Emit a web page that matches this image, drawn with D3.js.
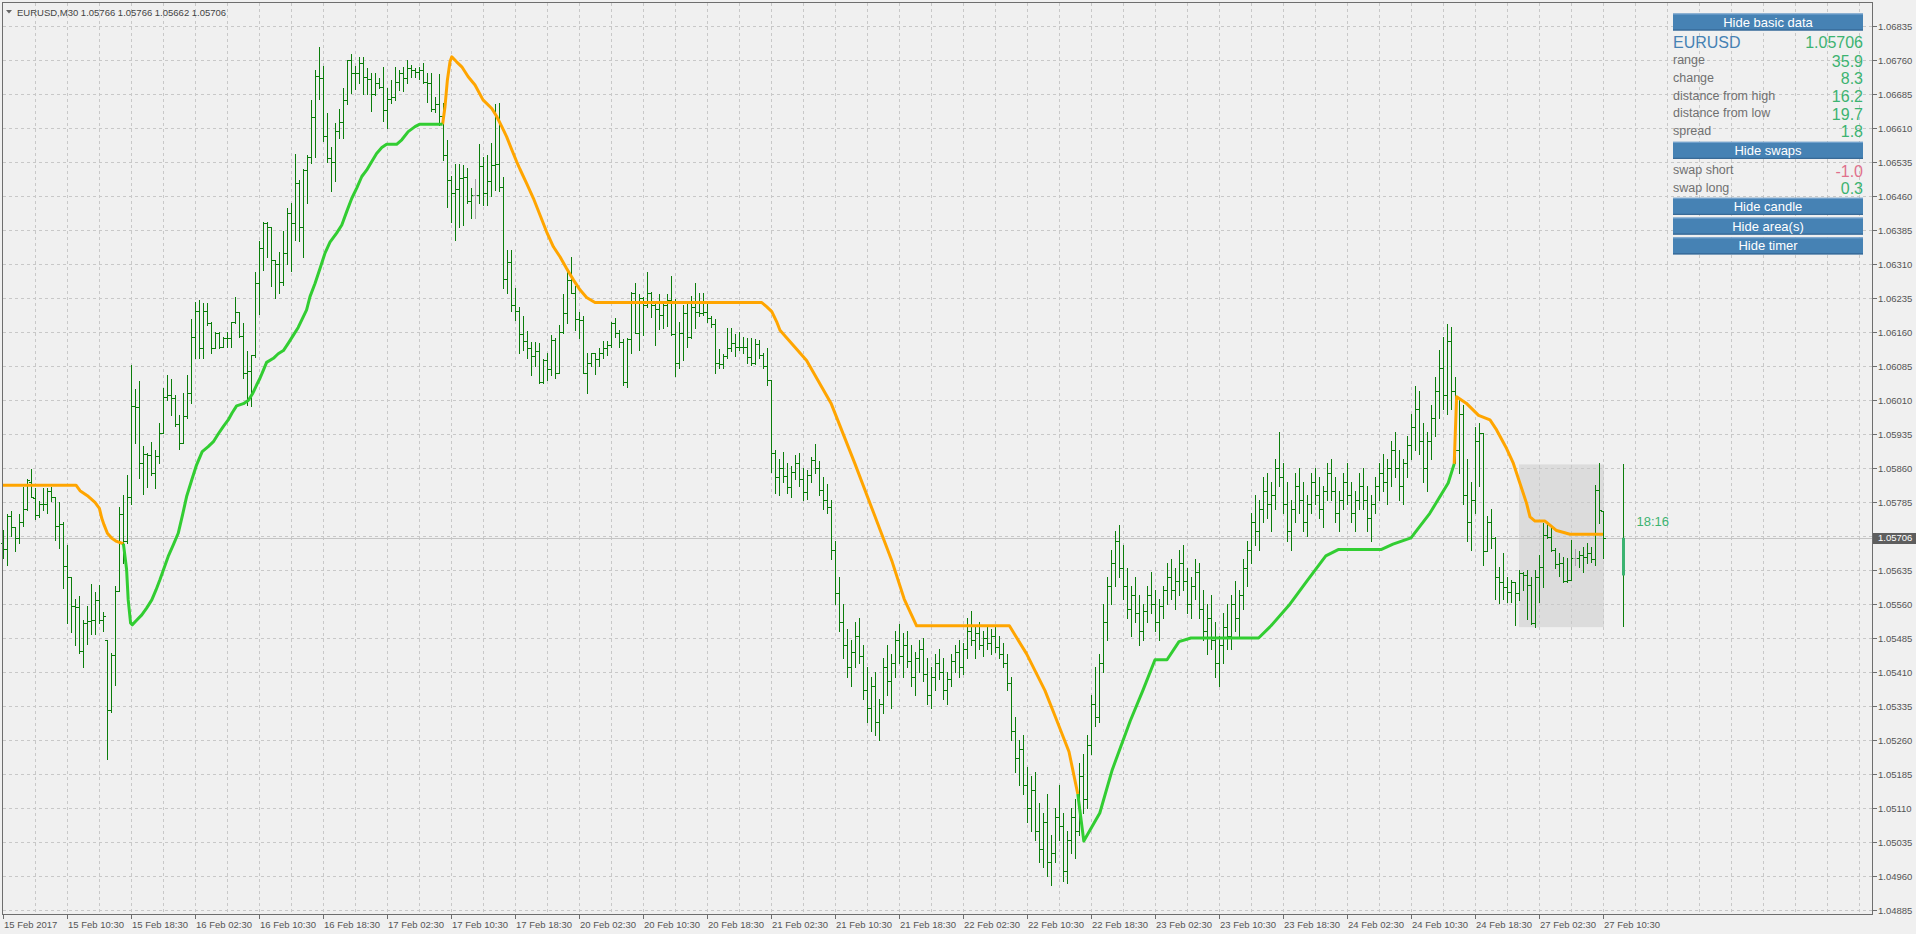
<!DOCTYPE html>
<html><head><meta charset="utf-8">
<script src="https://cdn.jsdelivr.net/npm/d3@7"></script>
<style>body{margin:0;background:#f0f0f0;overflow:hidden}svg{display:block}text{font-family:"Liberation Sans",Arial,sans-serif}</style>
</head><body><svg id="c" width="1916" height="934"></svg>
<script>
const symbolTitle = "EURUSD,M30";
const lastBarOHLC = ["1.05766","1.05766","1.05662","1.05706"];
const currentPrice = 1.05706;
const priceTicks = [1.06835,1.06760,1.06685,1.06610,1.06535,1.06460,1.06385,1.06310,1.06235,1.06160,1.06085,1.06010,1.05935,1.05860,1.05785,1.05710,1.05635,1.05560,1.05485,1.05410,1.05335,1.05260,1.05185,1.05110,1.05035,1.04960,1.04885];
const timeLabels = ["15 Feb 2017","15 Feb 10:30","15 Feb 18:30","16 Feb 02:30","16 Feb 10:30","16 Feb 18:30","17 Feb 02:30","17 Feb 10:30","17 Feb 18:30","20 Feb 02:30","20 Feb 10:30","20 Feb 18:30","21 Feb 02:30","21 Feb 10:30","21 Feb 18:30","22 Feb 02:30","22 Feb 10:30","22 Feb 18:30","23 Feb 02:30","23 Feb 10:30","23 Feb 18:30","24 Feb 02:30","24 Feb 10:30","24 Feb 18:30","27 Feb 02:30","27 Feb 10:30"];
const timeLabelBars = [0,16,32,48,64,80,96,112,128,144,160,176,192,208,224,240,256,272,288,304,320,336,352,368,384,400];

const opens = [
1.05694,1.05681,1.05755,1.05729,1.05705,1.05741,1.05769,1.05829,1.05794,1.05757,
1.05780,1.05781,1.05810,1.05796,1.05733,1.05736,1.05644,1.05619,1.05555,1.05553,
1.05457,1.05518,1.05522,1.05524,1.05568,1.05524,1.05481,1.05327,1.05448,1.05588,
1.05758,1.05700,1.05796,1.05996,1.05994,1.05871,1.05891,1.05889,1.05849,1.05887,
1.05937,1.06016,1.06021,1.06014,1.05958,1.05915,1.05975,1.06025,1.06149,1.06207,
1.06124,1.06207,1.06179,1.06124,1.06157,1.06128,1.06146,1.06147,1.06182,1.06204,
1.06152,1.06069,1.06073,1.06110,1.06267,1.06345,1.06400,1.06392,1.06319,1.06309,
1.06270,1.06334,1.06422,1.06401,1.06488,1.06392,1.06517,1.06547,1.06634,1.06725,
1.06720,1.06592,1.06543,1.06534,1.06604,1.06623,1.06672,1.06759,1.06732,1.06731,
1.06754,1.06723,1.06717,1.06685,1.06710,1.06700,1.06650,1.06675,1.06679,1.06712,
1.06731,1.06721,1.06742,1.06738,1.06734,1.06739,1.06712,1.06710,1.06651,1.06663,
1.06637,1.06550,1.06495,1.06467,1.06475,1.06499,1.06503,1.06448,1.06462,1.06462,
1.06527,1.06466,1.06494,1.06528,1.06530,1.06479,1.06278,1.06314,1.06220,1.06207,
1.06155,1.06141,1.06124,1.06107,1.06117,1.06050,1.06098,1.06078,1.06142,1.06069,
1.06161,1.06201,1.06275,1.06247,1.06188,1.06187,1.06070,1.06091,1.06113,1.06100,
1.06114,1.06124,1.06131,1.06179,1.06157,1.06137,1.06050,1.06144,1.06247,1.06157,
1.06236,1.06220,1.06247,1.06220,1.06210,1.06198,1.06220,1.06231,1.06156,1.06091,
1.06157,1.06201,1.06148,1.06216,1.06205,1.06201,1.06205,1.06190,1.06178,1.06091,
1.06089,1.06106,1.06124,1.06135,1.06126,1.06128,1.06126,1.06104,1.06092,1.06134,
1.06109,1.06084,1.06054,1.05894,
1.05841,1.05860,1.05842,1.05818,1.05852,1.05870,1.05835,1.05808,1.05845,1.05878,
1.05860,1.05812,1.05790,1.05775,1.05680,1.05585,1.05520,1.05470,1.05420,1.05455,
1.05490,1.05445,1.05370,1.05330,1.05380,1.05300,1.05340,1.05420,1.05390,1.05430,
1.05480,1.05445,1.05470,1.05435,1.05400,1.05440,1.05460,1.05405,1.05360,1.05400,
1.05430,1.05410,1.05370,1.05395,1.05435,1.05455,1.05420,1.05460,1.05500,1.05480,
1.05495,1.05470,1.05485,1.05475,1.05490,1.05465,1.05450,1.05430,1.05385,1.05280,
1.05220,1.05240,1.05160,1.05110,1.05150,1.05060,1.05020,1.05080,1.04990,1.05010,
1.05090,1.05070,1.04970,1.05040,1.05090,1.05060,1.05180,1.05130,1.05250,1.05340,
1.05310,1.05430,1.05520,1.05600,1.05650,1.05700,1.05640,1.05600,1.05550,1.05580,
1.05540,1.05500,1.05545,1.05580,1.05560,1.05520,1.05555,1.05590,1.05620,1.05590,
1.05610,1.05650,1.05610,1.05560,1.05600,1.05630,1.05550,1.05500,1.05530,1.05480,
1.05430,1.05470,1.05510,1.05490,1.05560,1.05530,1.05580,1.05640,1.05680,1.05740,
1.05720,1.05770,1.05810,1.05780,1.05800,1.05860,1.05840,1.05780,1.05720,1.05770,
1.05820,1.05790,1.05740,1.05780,1.05830,1.05800,1.05770,1.05810,1.05850,1.05810,
1.05760,1.05790,1.05830,1.05800,1.05760,1.05790,1.05820,1.05790,1.05750,1.05780,
1.05820,1.05850,1.05830,1.05860,1.05900,1.05860,1.05820,1.05870,1.05910,1.05950,
1.05990,1.05920,1.05860,1.05920,1.05970,1.06030,1.06080,1.06020,1.06140,1.06030,
1.05900,1.05980,1.05800,1.05740,1.05790,1.05920,1.05937,1.05676,1.05741,1.05705,
1.05620,1.05609,1.05598,1.05586,1.05609,1.05585,1.05628,1.05624,1.05602,1.05517,
1.05620,1.05642,1.05712,1.05708,1.05679,1.05648,1.05650,1.05611,1.05614,1.05662,
1.05662,1.05668,1.05664,1.05673,1.05659,1.05811,1.05766];
const highs = [
1.05724,1.05759,1.05766,1.05730,1.05759,1.05819,1.05835,1.05858,1.05816,1.05788,
1.05816,1.05816,1.05818,1.05797,1.05786,1.05740,1.05691,1.05619,1.05571,1.05577,
1.05525,1.05556,1.05605,1.05586,1.05603,1.05542,1.05481,1.05452,1.05600,1.05775,
1.05801,1.05845,1.06088,1.06034,1.06051,1.05909,1.05893,1.05917,1.05900,1.05959,
1.06036,1.06066,1.06056,1.06021,1.05977,1.06025,1.06066,1.06188,1.06227,1.06231,
1.06225,1.06225,1.06181,1.06161,1.06159,1.06150,1.06161,1.06183,1.06238,1.06205,
1.06179,1.06117,1.06110,1.06292,1.06360,1.06403,1.06402,1.06392,1.06319,1.06337,
1.06383,1.06434,1.06444,1.06553,1.06495,1.06519,1.06550,1.06672,1.06739,1.06789,
1.06747,1.06644,1.06567,1.06622,1.06652,1.06699,1.06761,1.06773,1.06747,1.06767,
1.06766,1.06742,1.06732,1.06732,1.06720,1.06744,1.06698,1.06716,1.06744,1.06739,
1.06745,1.06761,1.06749,1.06742,1.06744,1.06753,1.06732,1.06732,1.06679,1.06729,
1.06666,1.06584,1.06504,1.06531,1.06531,1.06528,1.06521,1.06477,1.06498,1.06575,
1.06547,1.06550,1.06576,1.06664,1.06666,1.06503,1.06341,1.06341,1.06256,1.06216,
1.06195,1.06163,1.06137,1.06137,1.06135,1.06100,1.06113,1.06153,1.06146,1.06176,
1.06244,1.06297,1.06326,1.06262,1.06205,1.06195,1.06113,1.06114,1.06114,1.06124,
1.06141,1.06141,1.06181,1.06190,1.06164,1.06144,1.06146,1.06249,1.06269,1.06244,
1.06238,1.06293,1.06249,1.06222,1.06244,1.06227,1.06244,1.06284,1.06232,1.06181,
1.06220,1.06225,1.06239,1.06269,1.06245,1.06245,1.06227,1.06195,1.06188,1.06122,
1.06112,1.06168,1.06168,1.06156,1.06161,1.06148,1.06146,1.06146,1.06144,1.06142,
1.06114,1.06124,1.06054,1.05900,
1.05880,1.05895,1.05870,1.05865,1.05888,1.05892,1.05860,1.05855,1.05885,1.05912,
1.05875,1.05840,1.05825,1.05790,1.05700,1.05620,1.05560,1.05505,1.05480,1.05520,
1.05530,1.05470,1.05420,1.05400,1.05410,1.05350,1.05440,1.05470,1.05450,1.05500,
1.05515,1.05495,1.05500,1.05470,1.05455,1.05480,1.05485,1.05440,1.05420,1.05450,
1.05460,1.05440,1.05410,1.05450,1.05470,1.05480,1.05475,1.05530,1.05545,1.05510,
1.05520,1.05500,1.05510,1.05505,1.05510,1.05490,1.05475,1.05450,1.05400,1.05310,
1.05260,1.05270,1.05200,1.05180,1.05190,1.05120,1.05100,1.05140,1.05050,1.05110,
1.05160,1.05100,1.05060,1.05110,1.05130,1.05210,1.05230,1.05270,1.05360,1.05420,
1.05450,1.05560,1.05620,1.05680,1.05720,1.05735,1.05690,1.05640,1.05600,1.05620,
1.05580,1.05560,1.05600,1.05630,1.05590,1.05570,1.05600,1.05650,1.05660,1.05640,
1.05680,1.05690,1.05640,1.05620,1.05660,1.05650,1.05590,1.05560,1.05580,1.05520,
1.05490,1.05540,1.05560,1.05580,1.05610,1.05590,1.05660,1.05700,1.05760,1.05800,
1.05790,1.05840,1.05850,1.05830,1.05880,1.05940,1.05870,1.05830,1.05790,1.05850,
1.05860,1.05830,1.05800,1.05850,1.05860,1.05840,1.05820,1.05870,1.05880,1.05840,
1.05810,1.05850,1.05870,1.05830,1.05810,1.05850,1.05860,1.05820,1.05800,1.05840,
1.05870,1.05890,1.05880,1.05920,1.05940,1.05900,1.05880,1.05930,1.05980,1.06040,
1.06030,1.05960,1.05940,1.06000,1.06060,1.06120,1.06150,1.06178,1.06170,1.06060,
1.06010,1.06000,1.05880,1.05830,1.05950,1.05960,1.05937,1.05754,1.05769,1.05708,
1.05642,1.05672,1.05620,1.05614,1.05609,1.05635,1.05631,1.05636,1.05620,1.05634,
1.05668,1.05738,1.05738,1.05732,1.05683,1.05672,1.05664,1.05661,1.05701,1.05681,
1.05676,1.05685,1.05694,1.05685,1.05823,1.05872,1.05766];
const lows = [
1.05661,1.05645,1.05709,1.05678,1.05694,1.05731,1.05768,1.05797,1.05748,1.05753,
1.05768,1.05760,1.05788,1.05702,1.05683,1.05595,1.05518,1.05498,1.05469,1.05452,
1.05421,1.05472,1.05494,1.05494,1.05519,1.05500,1.05217,1.05322,1.05382,1.05588,
1.05650,1.05694,1.05781,1.05916,1.05838,1.05803,1.05819,1.05845,1.05816,1.05871,
1.05937,1.06010,1.05977,1.05952,1.05902,1.05915,1.05970,1.06003,1.06102,1.06102,
1.06102,1.06176,1.06113,1.06124,1.06124,1.06128,1.06128,1.06128,1.06180,1.06150,
1.06058,1.05999,1.05996,1.06105,1.06200,1.06297,1.06326,1.06261,1.06236,1.06247,
1.06264,1.06311,1.06295,1.06364,1.06361,1.06326,1.06445,1.06532,1.06545,1.06673,
1.06582,1.06536,1.06470,1.06492,1.06587,1.06587,1.06664,1.06688,1.06695,1.06710,
1.06686,1.06686,1.06648,1.06683,1.06698,1.06626,1.06609,1.06666,1.06672,1.06694,
1.06692,1.06709,1.06723,1.06723,1.06717,1.06710,1.06668,1.06648,1.06646,1.06617,
1.06539,1.06435,1.06403,1.06364,1.06392,1.06396,1.06444,1.06411,1.06412,1.06444,
1.06440,1.06440,1.06459,1.06473,1.06472,1.06256,1.06245,1.06207,1.06186,1.06113,
1.06120,1.06102,1.06065,1.06085,1.06048,1.06047,1.06054,1.06065,1.06058,1.06069,
1.06157,1.06179,1.06245,1.06164,1.06146,1.06069,1.06026,1.06084,1.06067,1.06084,
1.06102,1.06109,1.06128,1.06150,1.06126,1.06043,1.06038,1.06114,1.06157,1.06120,
1.06153,1.06216,1.06192,1.06131,1.06166,1.06168,1.06173,1.06153,1.06063,1.06080,
1.06098,1.06126,1.06146,1.06168,1.06195,1.06198,1.06181,1.06172,1.06069,1.06080,
1.06080,1.06102,1.06117,1.06107,1.06120,1.06113,1.06091,1.06087,1.06089,1.06102,
1.06080,1.06043,1.05852,1.05804,
1.05800,1.05830,1.05805,1.05795,1.05835,1.05820,1.05790,1.05792,1.05830,1.05850,
1.05800,1.05770,1.05760,1.05660,1.05560,1.05500,1.05440,1.05400,1.05380,1.05420,
1.05430,1.05350,1.05300,1.05280,1.05270,1.05260,1.05320,1.05360,1.05330,1.05400,
1.05430,1.05400,1.05420,1.05380,1.05360,1.05410,1.05390,1.05340,1.05330,1.05370,
1.05395,1.05350,1.05340,1.05380,1.05410,1.05400,1.05405,1.05440,1.05470,1.05440,
1.05460,1.05445,1.05460,1.05450,1.05455,1.05440,1.05420,1.05370,1.05260,1.05190,
1.05160,1.05140,1.05080,1.05060,1.05040,1.04990,1.04980,1.04960,1.04940,1.04990,
1.05040,1.04950,1.04945,1.05010,1.05000,1.05050,1.05100,1.05110,1.05230,1.05290,
1.05300,1.05410,1.05480,1.05560,1.05600,1.05620,1.05570,1.05530,1.05490,1.05520,
1.05470,1.05480,1.05520,1.05540,1.05500,1.05480,1.05530,1.05560,1.05570,1.05550,
1.05580,1.05590,1.05540,1.05530,1.05570,1.05530,1.05480,1.05450,1.05460,1.05400,
1.05380,1.05430,1.05460,1.05460,1.05500,1.05490,1.05550,1.05600,1.05650,1.05690,
1.05680,1.05740,1.05750,1.05720,1.05770,1.05820,1.05760,1.05700,1.05680,1.05740,
1.05760,1.05720,1.05710,1.05760,1.05780,1.05750,1.05730,1.05790,1.05790,1.05740,
1.05720,1.05770,1.05780,1.05740,1.05720,1.05770,1.05770,1.05720,1.05700,1.05760,
1.05790,1.05810,1.05780,1.05820,1.05840,1.05790,1.05780,1.05840,1.05880,1.05900,
1.05890,1.05830,1.05810,1.05880,1.05930,1.05970,1.05990,1.05980,1.05990,1.05870,
1.05850,1.05780,1.05700,1.05680,1.05760,1.05820,1.05646,1.05676,1.05683,1.05572,
1.05563,1.05572,1.05565,1.05565,1.05514,1.05569,1.05591,1.05528,1.05516,1.05510,
1.05565,1.05598,1.05705,1.05676,1.05639,1.05622,1.05609,1.05609,1.05613,1.05646,
1.05642,1.05631,1.05650,1.05653,1.05646,1.05738,1.05662];
const closes = [
1.05681,1.05755,1.05729,1.05705,1.05741,1.05769,1.05833,1.05797,1.05757,1.05780,
1.05781,1.05810,1.05796,1.05733,1.05736,1.05644,1.05619,1.05555,1.05553,1.05457,
1.05518,1.05522,1.05524,1.05568,1.05524,1.05534,1.05327,1.05448,1.05588,1.05758,
1.05700,1.05796,1.05996,1.05994,1.05871,1.05891,1.05889,1.05849,1.05887,1.05937,
1.06016,1.06021,1.06014,1.05958,1.05915,1.05975,1.06025,1.06149,1.06207,1.06124,
1.06207,1.06179,1.06124,1.06157,1.06128,1.06146,1.06147,1.06182,1.06204,1.06152,
1.06069,1.06073,1.06110,1.06267,1.06345,1.06400,1.06392,1.06319,1.06309,1.06270,
1.06334,1.06422,1.06401,1.06488,1.06392,1.06517,1.06547,1.06634,1.06725,1.06720,
1.06592,1.06543,1.06534,1.06604,1.06623,1.06672,1.06759,1.06732,1.06731,1.06754,
1.06723,1.06717,1.06685,1.06710,1.06700,1.06650,1.06675,1.06679,1.06712,1.06731,
1.06721,1.06742,1.06738,1.06734,1.06739,1.06712,1.06710,1.06651,1.06663,1.06637,
1.06550,1.06495,1.06467,1.06475,1.06499,1.06503,1.06448,1.06462,1.06462,1.06527,
1.06466,1.06494,1.06528,1.06530,1.06479,1.06278,1.06314,1.06220,1.06207,1.06155,
1.06141,1.06124,1.06107,1.06117,1.06050,1.06098,1.06078,1.06142,1.06069,1.06161,
1.06201,1.06275,1.06247,1.06188,1.06187,1.06070,1.06091,1.06113,1.06100,1.06114,
1.06124,1.06131,1.06179,1.06157,1.06137,1.06050,1.06144,1.06247,1.06157,1.06236,
1.06220,1.06247,1.06220,1.06210,1.06198,1.06220,1.06231,1.06156,1.06091,1.06157,
1.06201,1.06148,1.06216,1.06205,1.06201,1.06205,1.06190,1.06178,1.06091,1.06089,
1.06106,1.06124,1.06135,1.06126,1.06128,1.06126,1.06104,1.06092,1.06134,1.06109,
1.06084,1.06054,1.05894,1.05841,
1.05860,1.05842,1.05818,1.05852,1.05870,1.05835,1.05808,1.05845,1.05878,1.05860,
1.05812,1.05790,1.05775,1.05680,1.05585,1.05520,1.05470,1.05420,1.05455,1.05490,
1.05445,1.05370,1.05330,1.05380,1.05300,1.05340,1.05420,1.05390,1.05430,1.05480,
1.05445,1.05470,1.05435,1.05400,1.05440,1.05460,1.05405,1.05360,1.05400,1.05430,
1.05410,1.05370,1.05395,1.05435,1.05455,1.05420,1.05460,1.05500,1.05480,1.05495,
1.05470,1.05485,1.05475,1.05490,1.05465,1.05450,1.05430,1.05385,1.05280,1.05220,
1.05240,1.05160,1.05110,1.05150,1.05060,1.05020,1.05080,1.04990,1.05010,1.05090,
1.05070,1.04970,1.05040,1.05090,1.05060,1.05180,1.05130,1.05250,1.05340,1.05310,
1.05430,1.05520,1.05600,1.05650,1.05700,1.05640,1.05600,1.05550,1.05580,1.05540,
1.05500,1.05545,1.05580,1.05560,1.05520,1.05555,1.05590,1.05620,1.05590,1.05610,
1.05650,1.05610,1.05560,1.05600,1.05630,1.05550,1.05500,1.05530,1.05480,1.05430,
1.05470,1.05510,1.05490,1.05560,1.05530,1.05580,1.05640,1.05680,1.05740,1.05720,
1.05770,1.05810,1.05780,1.05800,1.05860,1.05840,1.05780,1.05720,1.05770,1.05820,
1.05790,1.05740,1.05780,1.05830,1.05800,1.05770,1.05810,1.05850,1.05810,1.05760,
1.05790,1.05830,1.05800,1.05760,1.05790,1.05820,1.05790,1.05750,1.05780,1.05820,
1.05850,1.05830,1.05860,1.05900,1.05860,1.05820,1.05870,1.05910,1.05950,1.05990,
1.05920,1.05860,1.05920,1.05970,1.06030,1.06080,1.06020,1.06140,1.06030,1.05900,
1.05980,1.05800,1.05740,1.05790,1.05920,1.05937,1.05676,1.05741,1.05705,1.05620,
1.05609,1.05598,1.05586,1.05609,1.05585,1.05628,1.05624,1.05602,1.05517,1.05620,
1.05642,1.05712,1.05708,1.05679,1.05648,1.05650,1.05611,1.05614,1.05662,1.05662,
1.05668,1.05664,1.05673,1.05659,1.05811,1.05767,1.05706];

// upper (orange) and lower (green) trailing lines: segments of [bar, price]
const upperLine = [
 [[0,1.05822],[18.25,1.05822],[19.25,1.05810],[21.1,1.05799],[23,1.05784],[24.1,1.05771],[24.7,1.05749],[25.25,1.05735],[26.1,1.05716],[27.2,1.05705],[28.4,1.05698],[30.1,1.05693]],
 [[109.9,1.06618],[110.5,1.06657],[111.1,1.06716],[111.75,1.06756],[112.2,1.06767],[113.4,1.06756],[114.7,1.06745],[116.3,1.06723],[118,1.06705],[120,1.06672],[122.2,1.06653],[123.4,1.06636],[124.7,1.06613],[125.9,1.06591],[127.2,1.06562],[128.4,1.06536],[129.25,1.06519],[130.9,1.06488],[132.6,1.06455],[134.25,1.06418],[135.9,1.06381],[137.6,1.06348],[139.25,1.06326],[140.9,1.06300],[142.6,1.06275],[144.25,1.06253],[145.9,1.06236],[148,1.06225],[189.7,1.06225],[190.9,1.06216],[192.2,1.06205],[193.4,1.06183],[194.25,1.06164],[200.9,1.06097],[207,1.06003],[213,1.05869],[217.7,1.05760],[222.3,1.05653],[225.3,1.05571],[228.4,1.05512],[251.6,1.05512],[255.9,1.05450],[260.5,1.05369],[263.5,1.05302],[266.5,1.05234],[268.7,1.05141]],
 [[362.8,1.05869],[363.4,1.06017],[365.8,1.06003],[368.9,1.05976],[371.75,1.05966],[373.4,1.05944],[375.9,1.05903],[377.6,1.05870],[379.25,1.05826],[380.9,1.05782],[381.75,1.05752],[383,1.05743],[385.5,1.05743],[386.75,1.05734],[388.4,1.05722],[391.75,1.05714],[400,1.05714]]
];
const lowerLine = [
 [[30.1,1.05693],[30.5,1.05665],[30.9,1.05636],[31.3,1.05569],[31.9,1.05518],[32.3,1.05514],[33.4,1.05524],[34.7,1.05536],[35.9,1.05551],[37.2,1.05569],[38.25,1.05591],[39.25,1.05614],[40.25,1.05639],[41.3,1.05665],[42.6,1.05691],[43.8,1.05716],[44.9,1.05757],[45.9,1.05797],[47.2,1.05834],[48.4,1.05867],[49.8,1.05896],[51.3,1.05907],[52.6,1.05918],[53.8,1.05935],[55.1,1.05952],[56.3,1.05966],[57.3,1.05982],[58.4,1.05997],[60.1,1.06002],[61.3,1.06009],[62.4,1.06024],[63.4,1.06043],[64.25,1.06058],[65.1,1.06076],[65.9,1.06093],[67.6,1.06102],[68.8,1.06112],[70.1,1.06119],[71.3,1.06135],[72.6,1.06153],[73.8,1.06170],[74.7,1.06187],[75.9,1.06209],[76.75,1.06238],[78,1.06267],[79.25,1.06300],[80.5,1.06334],[81.75,1.06358],[83.4,1.06378],[84.7,1.06396],[85.9,1.06425],[87.2,1.06455],[88.4,1.06477],[89.7,1.06503],[90.9,1.06517],[92.2,1.06536],[93.4,1.06554],[94.7,1.06567],[95.9,1.06574],[98.4,1.06574],[99.7,1.06584],[101.3,1.06602],[103,1.06613],[104.1,1.06618],[109.9,1.06618]],
 [[268.7,1.05141],[270.2,1.05037],[274.2,1.05099],[277.3,1.05194],[281.8,1.05302],[285,1.05370],[288,1.05437],[291,1.05437],[294,1.05477],[297,1.05485],[313.9,1.05485],[317,1.05512],[321.5,1.05557],[326.1,1.05612],[330.7,1.05666],[333.8,1.05680],[344.5,1.05680],[347.5,1.05692],[352,1.05706],[356.7,1.05760],[361.3,1.05827],[362.8,1.05869]]
];

// today's candle (D1) drawn to the right, and today's range area
const dayCandleBar = [405];
const dayCandleOHLC = [1.05623, 1.05868, 1.05509, 1.05706];
const todayAreaBars = [379, 400];
const timerText = "18:16";

const panelSymbol = ["EURUSD", "1.05706"];
const panelRows = [["range","35.9"],["change","8.3"],["distance from high","16.2"],["distance from low","19.7"],["spread","1.8"]];
const swapRows = [["swap short","-1.0"],["swap long","0.3"]];
const buttons = ["Hide basic data","Hide swaps","Hide candle","Hide area(s)","Hide timer"];

// ---------- drawing ----------
const svg = d3.select('#c');
const FR = {l:2.5, t:2.5, r:1872.5, b:914.5};
const x = d3.scaleLinear().domain([0,400]).range([3,1603]);
const y = d3.scaleLinear().domain([1.04885,1.06835]).range([910,26]);
const px = i => Math.round(x(i)) + 0.5;
const py = v => Math.round(y(v)) + 0.5;

svg.append('rect').attr('width',1916).attr('height',934).attr('fill','#f0f0f0');

// today's area
svg.append('rect')
  .attr('x', x(todayAreaBars[0])).attr('y', y(dayCandleOHLC[1]))
  .attr('width', x(todayAreaBars[1]) - x(todayAreaBars[0]) + 1)
  .attr('height', y(dayCandleOHLC[2]) - y(dayCandleOHLC[1]))
  .attr('fill','#dcdcdc');

// grid
const grid = svg.append('g').attr('stroke','#c8c8c8').attr('stroke-dasharray','3,3').attr('shape-rendering','crispEdges');
priceTicks.forEach(p => grid.append('line').attr('x1',3).attr('x2',FR.r).attr('y1',py(p)).attr('y2',py(p)));
d3.range(8, 465, 8).forEach(b => grid.append('line').attr('x1',px(b)).attr('x2',px(b)).attr('y1',FR.t).attr('y2',FR.b));

// current price line
svg.append('line').attr('x1',3).attr('x2',FR.r).attr('y1',py(currentPrice)).attr('y2',py(currentPrice))
  .attr('stroke','#c4c4c4').attr('shape-rendering','crispEdges');

// OHLC bars
const bars = svg.append('g').attr('fill','none').attr('shape-rendering','crispEdges');
opens.forEach((o,i) => {
  const cx = px(i);
  const d = `M${cx},${py(highs[i])-0.5}V${py(lows[i])+0.5}M${cx-2.5},${py(o)}H${cx}M${cx},${py(closes[i])}H${cx+2.5}`;
  bars.append('path').attr('d', d).attr('stroke', o === closes[i] ? '#a8a8a8' : '#0b7d0b').attr('stroke-width',1);
});

// trailing lines
const line = d3.line().x(d => x(d[0])).y(d => y(d[1]));
upperLine.forEach(seg => svg.append('path').attr('d', line(seg)).attr('fill','none').attr('stroke','#ffa500').attr('stroke-width',3).attr('stroke-linejoin','round'));
lowerLine.forEach(seg => svg.append('path').attr('d', line(seg)).attr('fill','none').attr('stroke','#32cd32').attr('stroke-width',3).attr('stroke-linejoin','round'));

// day candle
{
  const cx = px(dayCandleBar[0]);
  const [o,h,l,c] = dayCandleOHLC;
  svg.append('line').attr('x1',cx).attr('x2',cx).attr('y1',y(h)).attr('y2',y(l)).attr('stroke','#0b7d0b').attr('shape-rendering','crispEdges');
  svg.append('rect').attr('x',cx-1.5).attr('width',3).attr('y',y(c)).attr('height',y(o)-y(c)).attr('fill','#3cb371');
  svg.append('text').attr('x',cx+13).attr('y',y(c)-12).attr('font-size',13).attr('fill','#3cb371').text(timerText);
}

// frame
svg.append('path').attr('d',`M${FR.l},${FR.b}V${FR.t}H${FR.r}V${FR.b}H${FR.l}`).attr('fill','none').attr('stroke','#6e6e6e').attr('shape-rendering','crispEdges');

// price axis
const pa = svg.append('g');
priceTicks.forEach(p => {
  pa.append('line').attr('x1',FR.r).attr('x2',FR.r+4).attr('y1',py(p)).attr('y2',py(p)).attr('stroke','#6e6e6e').attr('shape-rendering','crispEdges');
  if (Math.abs(p - currentPrice) > 0.0002)
    pa.append('text').attr('x',1878).attr('y',y(p)+3.5).attr('font-size',9.5).attr('fill','#555').text(p.toFixed(5));
});
pa.append('rect').attr('x',FR.r+0.5).attr('y',py(currentPrice)-5.5).attr('width',1916-FR.r).attr('height',11).attr('fill','#5e5e5e');
pa.append('text').attr('x',1878).attr('y',y(currentPrice)+3.5).attr('font-size',9.5).attr('fill','#fff').text(currentPrice.toFixed(5));

// time axis
const ta = svg.append('g');
timeLabelBars.forEach((b,k) => {
  ta.append('line').attr('x1',px(b)).attr('x2',px(b)).attr('y1',FR.b).attr('y2',FR.b+4).attr('stroke','#6e6e6e').attr('shape-rendering','crispEdges');
  ta.append('text').attr('x',px(b)+0.5).attr('y',928).attr('font-size',9.5).attr('fill','#555').text(timeLabels[k]);
});

// title
svg.append('path').attr('d','M6,10H12L9,13.5Z').attr('fill','#666');
svg.append('text').attr('x',17).attr('y',15.5).attr('font-size',9.5).attr('fill','#444')
  .text(symbolTitle + '  ' + lastBarOHLC.join(' '));

// info panel
const PL = 1673, PR = 1863;
function button(top, label) {
  svg.append('rect').attr('x',PL).attr('y',top).attr('width',PR-PL).attr('height',17).attr('fill','#4682b4');
  svg.append('line').attr('x1',PL).attr('x2',PR).attr('y1',top+0.5).attr('y2',top+0.5).attr('stroke','#7ea9d3');
  svg.append('line').attr('x1',PL).attr('x2',PR).attr('y1',top+16.5).attr('y2',top+16.5).attr('stroke','#2f5f8c');
  svg.append('text').attr('x',(PL+PR)/2).attr('y',top+13).attr('text-anchor','middle').attr('font-size',13).attr('fill','#fff').text(label);
}
button(13.5, buttons[0]);
svg.append('text').attr('x',PL).attr('y',48.3).attr('font-size',16).attr('fill','#4682b4').text(panelSymbol[0]);
svg.append('text').attr('x',PR).attr('y',48.3).attr('text-anchor','end').attr('font-size',16).attr('fill','#3cb371').text(panelSymbol[1]);
panelRows.forEach((r,k) => {
  const base = 66.7 + k*17.65;
  svg.append('text').attr('x',PL).attr('y',base-2.5).attr('font-size',12.5).attr('fill','#707070').text(r[0]);
  svg.append('text').attr('x',PR).attr('y',base).attr('text-anchor','end').attr('font-size',16).attr('fill','#3cb371').text(r[1]);
});
button(141.8, buttons[1]);
swapRows.forEach((r,k) => {
  const base = 176.7 + k*17.6;
  svg.append('text').attr('x',PL).attr('y',base-2.5).attr('font-size',12.5).attr('fill','#707070').text(r[0]);
  svg.append('text').attr('x',PR).attr('y',base).attr('text-anchor','end').attr('font-size',16).attr('fill', r[1].startsWith('-') ? '#e0708c' : '#3cb371').text(r[1]);
});
button(197.8, buttons[2]);
button(217.6, buttons[3]);
button(237.4, buttons[4]);
</script></body></html>
